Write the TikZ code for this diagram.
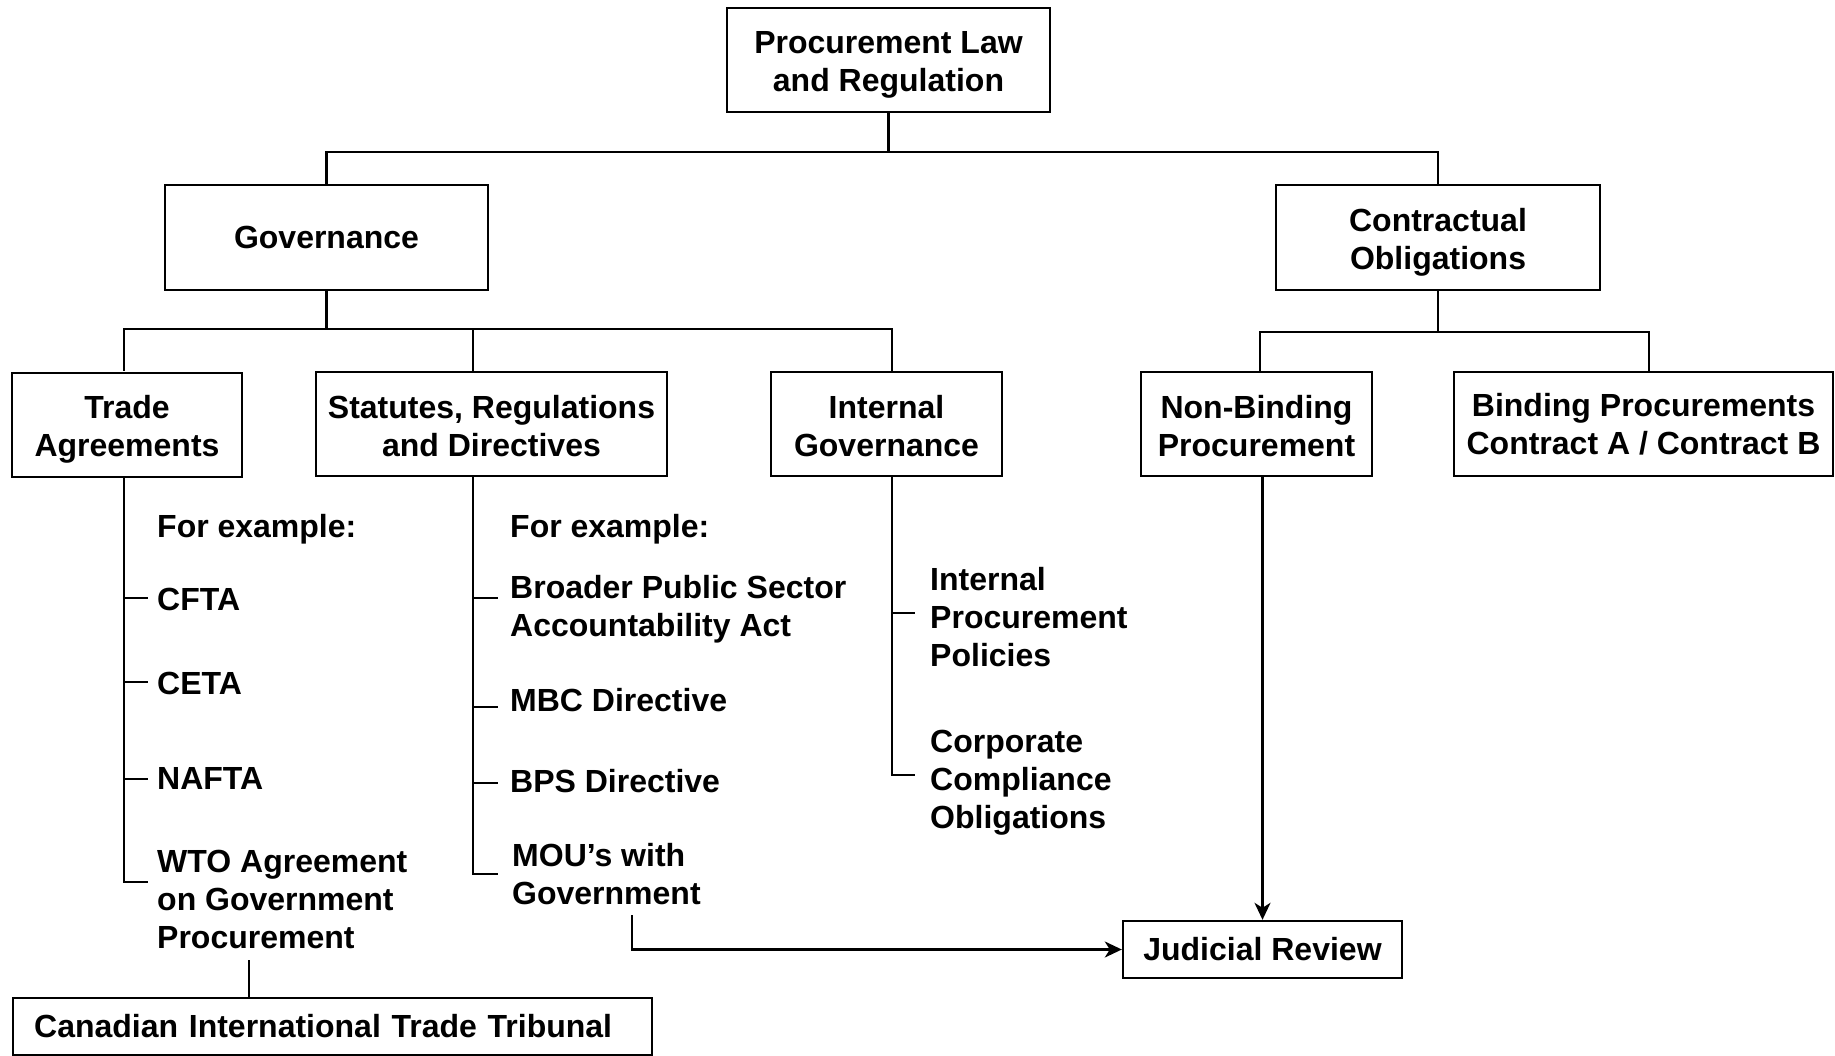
\documentclass[tikz,border=0pt]{standalone}
\usepackage{fontspec}
\setmainfont{Liberation Sans}
\usetikzlibrary{arrows.meta}
\newcommand\drop[1]{\rule{0pt}{#1}}

\begin{document}
\begin{tikzpicture}[
  x=1pt,y=-1pt,
  font=\bfseries\fontsize{32}{38}\selectfont,
  box/.style={draw,line width=2.4pt,align=center,inner sep=2pt},
  lvl/.style={box,minimum height=104pt},
  item/.style={anchor=north west,align=left,inner sep=0pt},
  ln/.style={line width=2.2pt},
  ar/.style={ln,-{Stealth[length=17pt,width=16pt,inset=5pt]}}]

\useasboundingbox[fill=white] (0,0) rectangle (1835,1056);

% boxes
\node[lvl,minimum width=323pt] (plr) at (888.5,60) {\drop{31pt}Procurement Law\\and Regulation};
\node[lvl,minimum width=323pt,minimum height=105pt] (gov) at (326.5,237.5) {Governance};
\node[lvl,minimum width=324pt,minimum height=105pt] (co) at (1438,237.5) {\drop{32pt}Contractual\\Obligations};
\node[lvl,minimum width=230pt] (ta) at (127,425) {\drop{31pt}Trade\\Agreements};
\node[lvl,minimum width=351pt] (st) at (491.5,424) {\drop{27pt}Statutes, Regulations\\and Directives};
\node[lvl,minimum width=231pt] (ig) at (886.5,424) {\drop{27pt}Internal\\Governance};
\node[lvl,minimum width=231pt] (nb) at (1256.5,424) {\drop{27pt}Non-Binding\\Procurement};
\node[lvl,minimum width=379pt] (bp) at (1643.5,424) {Binding Procurements\\Contract A / Contract B};
\node[box,minimum width=279pt,minimum height=57pt] (jr) at (1262.5,949.5) {Judicial Review};
\node[box,anchor=west,minimum height=57pt,text width=597pt,inner xsep=21pt,align=left] (citt) at (12,1026.5)
  {Canadian International Trade Tribunal};

% list items
\node[item] (fe1) at (157,514) {For example:};
\node[item] (cfta) at (157,588) {CFTA};
\node[item] (ceta) at (157,672) {CETA};
\node[item] (nafta) at (157,767) {NAFTA};
\node[item] (wto) at (157,850) {WTO Agreement\\on Government\\Procurement};

\node[item] (fe2) at (510,514) {For example:};
\node[item] (bpsaa) at (510,575) {Broader Public Sector\\Accountability Act};
\node[item] (mbc) at (510,688) {MBC Directive};
\node[item] (bpsd) at (510,769) {BPS Directive};
\node[item] (mou) at (512,843) {MOU’s with\\Government};

\node[item] (ipp) at (930,567) {Internal\\Procurement\\Policies};
\node[item] (cco) at (930,730) {Corporate\\Compliance\\Obligations};

% bars and drops
\coordinate (bar1) at (0,152);
\coordinate (bar2) at (0,329);
\coordinate (bar3) at (0,332);
\coordinate (tax) at (124,0);
\coordinate (stx) at (473,0);
\coordinate (igx) at (892,0);
\coordinate (nbx) at (1260,0);
\coordinate (bpx) at (1649,0);

\draw[ln] (plr.south) -- (plr.south |- bar1);
\foreach \n in {gov,co} \draw[ln] (plr.south |- bar1) -| (\n.north);
\foreach \x in {tax,stx,igx} \draw[ln] (gov.south) -- (gov.south |- bar2) -| (\x |- st.north);
\foreach \x in {nbx,bpx} \draw[ln] (co.south) -- (co.south |- bar3) -| (\x |- nb.north);

% tick ends
\foreach \n/\y in {ta1/598,ta2/682,ta3/779,ta4/882} \coordinate (\n) at (148,\y);
\foreach \n/\y in {st1/598,st2/707,st3/783,st4/874} \coordinate (\n) at (498,\y);
\foreach \n/\y in {ig1/613,ig2/775} \coordinate (\n) at (915,\y);

\draw[ln] (ta.south -| tax) |- (ta4);
\foreach \k in {ta1,ta2,ta3} \draw[ln] (tax |- \k) -- (\k);
\draw[ln] (st.south -| stx) |- (st4);
\foreach \k in {st1,st2,st3} \draw[ln] (stx |- \k) -- (\k);
\draw[ln] (ig.south -| igx) |- (ig2);
\draw[ln] (igx |- ig1) -- (ig1);

% review links
\coordinate (wto-out) at (249,960);
\coordinate (mou-out) at (632,915);
\draw[ln] (wto-out) -- (wto-out |- citt.north);
\draw[ar] (mou-out) |- (jr.west);
\draw[ar] (jr.north |- nb.south) -- (jr.north);
\end{tikzpicture}
\end{document}
